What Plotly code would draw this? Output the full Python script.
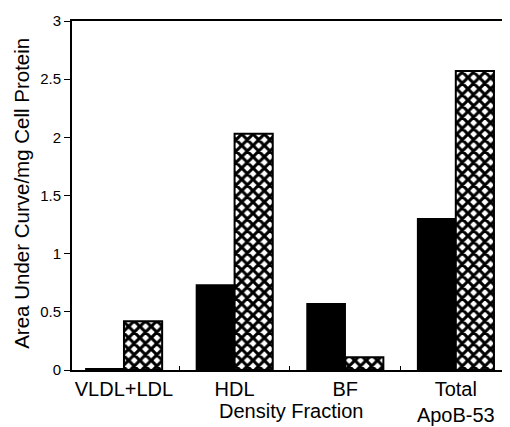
import plotly.graph_objects as go

categories = ["VLDL+LDL", "HDL", "BF", "Total<br>ApoB-53"]
solid_values = [0.01, 0.73, 0.57, 1.30]
hatched_values = [0.42, 2.03, 0.11, 2.57]
y_ticks = [0, 0.5, 1, 1.5, 2, 2.5, 3]
y_ticklabels = ["0", "0.5", "1", "1.5", "2", "2.5", "3"]

fig = go.Figure()
fig.add_trace(go.Bar(
    x=categories, y=solid_values, name="solid",
    marker=dict(color="black", line=dict(color="black", width=1.5)),
))
fig.add_trace(go.Bar(
    x=categories, y=hatched_values, name="hatched",
    marker=dict(color="white", line=dict(color="black", width=2),
                pattern=dict(shape="x", fgcolor="black", bgcolor="white",
                             size=8, solidity=0.62, fgopacity=1)),
))

font = "Liberation Sans, Arial, Helvetica, sans-serif"
# page body has an 8px default margin, so the figure is sized to the visible area
fig.update_layout(
    width=502, height=419,
    margin=dict(l=64, r=0, t=13, b=57, autoexpand=False),
    paper_bgcolor="white", plot_bgcolor="white",
    barmode="group", bargap=0.31, bargroupgap=0,
    showlegend=False,
    font=dict(family=font, color="black", size=17),
    annotations=[
        dict(text="Density Fraction", xref="paper", yref="paper", x=0.5, y=-0.117,
             xanchor="center", yanchor="middle", showarrow=False,
             font=dict(size=20, family=font, color="black")),
        dict(text="Area Under Curve/mg Cell Protein", xref="paper", yref="paper",
             x=-0.114, y=0.505, xanchor="center", yanchor="middle", textangle=-90,
             showarrow=False, font=dict(size=20.5, family=font, color="black")),
    ],
)
fig.update_xaxes(
    type="category", range=[-0.47, 3.49], automargin=False,
    showline=True, linecolor="black", linewidth=2, mirror=True,
    ticks="inside", ticklen=4, tickcolor="black", tickson="boundaries",
    tickfont=dict(size=20, family=font),
    showgrid=False,
)
fig.update_yaxes(
    range=[0, 3], tickvals=y_ticks, ticktext=y_ticklabels, automargin=False,
    showline=True, linecolor="black", linewidth=2,
    ticks="outside", ticklen=6, tickcolor="black",
    tickfont=dict(size=15, family=font),
    showgrid=False, zeroline=False,
)
fig.write_html("out.html")
